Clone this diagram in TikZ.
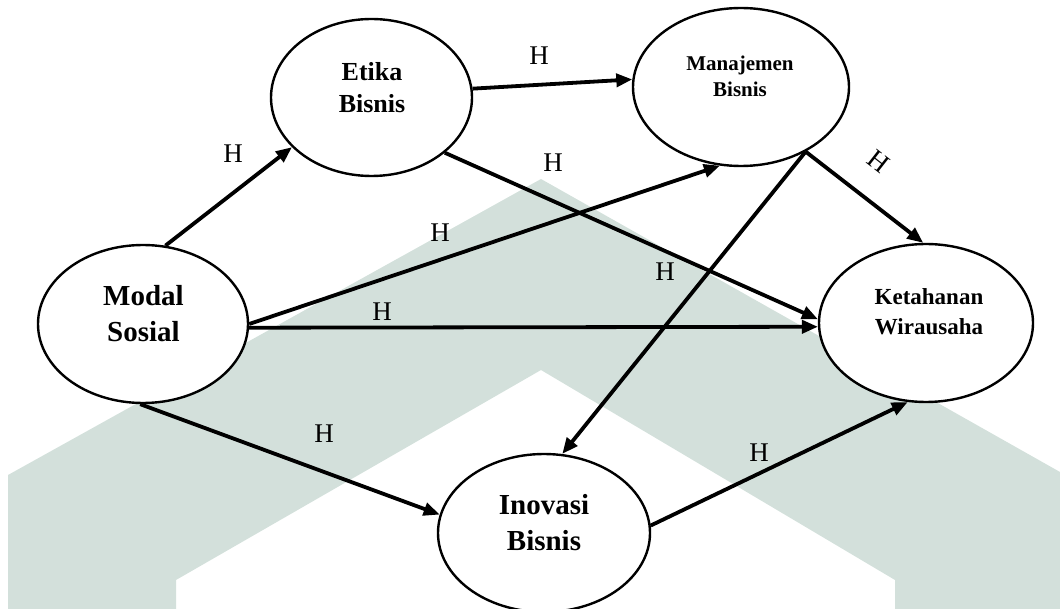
\documentclass[tikz,border=0pt]{standalone}
\usepackage{fontspec}
\setmainfont{Liberation Serif}
\usetikzlibrary{arrows.meta,shapes.geometric}
\definecolor{wm}{RGB}{211,224,219}
\begin{document}
\begin{tikzpicture}[x=1pt,y=-1pt,
  ell/.style={ellipse,draw,line width=2.4pt,fill=white,inner sep=0pt},
  con/.style={line width=3.8pt,-{Triangle[length=16pt,width=13pt]}},
  hl/.style={font=\fontsize{27}{27}\selectfont,inner sep=0pt},
  tbig/.style={font=\fontsize{29}{29}\selectfont\bfseries,inner sep=0pt,anchor=base},
  tmid/.style={font=\fontsize{26}{26}\selectfont\bfseries,inner sep=0pt,anchor=base},
  tket/.style={font=\fontsize{23}{23}\selectfont\bfseries,inner sep=0pt,anchor=base},
  tman/.style={font=\fontsize{21}{21}\selectfont\bfseries,inner sep=0pt,anchor=base}]
\useasboundingbox (0,0) rectangle (1060,609);
% watermark
\fill[wm] (8,609) -- (8,475) -- (541,179) -- (1060,472) -- (1060,609) -- (895,609)
  -- (895,580) -- (541,370) -- (176,580) -- (176,609) -- cycle;
% nodes
\node[ell,minimum width=210pt,minimum height=158pt] (S) at (143,324) {};
\node[ell,minimum width=201pt,minimum height=157pt] (E) at (371.5,97.5) {};
\node[ell,minimum width=216pt,minimum height=158pt] (M) at (741,87) {};
\node[ell,minimum width=214pt,minimum height=158pt] (K) at (926,323) {};
\node[ell,minimum width=212pt,minimum height=158pt] (I) at (544,533) {};
% texts
\node[tbig] (s1) at (143.5,306) {Modal};
\node[tbig] (s2) at (143.5,342) {Sosial};
\node[tmid] (e1) at (372,81) {Etika};
\node[tmid] (e2) at (372,113) {Bisnis};
\node[tman] (m1) at (740,71) {Manajemen};
\node[tman] (m2) at (740,97) {Bisnis};
\node[tket] (k1) at (929,305) {Ketahanan};
\node[tket] (k2) at (929,335) {Wirausaha};
\node[tbig] (i1) at (544,514) {Inovasi};
\node[tbig] (i2) at (544,550) {Bisnis};
% connectors
\draw[con] (S.74) -- (E.-148);
\draw[con] (E.5) -- (M.176);
\draw[con] (E.-37) -- (K.178);
\draw[con] (S.0) -- (M.-105);
\draw[con] (S.-2) -- (K.-178);
\draw[con] (M.-45) -- (K.92);
\draw[con] (M.-45) -- (I.77);
\draw[con] (S.-92) -- (I.170);
\draw[con] (I.4) -- (K.-103);
% labels
\node[hl] (h1) at (233,154) {H};
\node[hl] (h2) at (539,56) {H};
\node[hl] (h3) at (553,163) {H};
\node[hl] (h4) at (440,233) {H};
\node[hl] (h5) at (665,272) {H};
\node[hl] (h6) at (382,312) {H};
\node[hl,rotate=-38] (h7) at (879,162) {H};
\node[hl] (h8) at (324,434) {H};
\node[hl] (h9) at (759,453) {H};
\end{tikzpicture}
\end{document}
